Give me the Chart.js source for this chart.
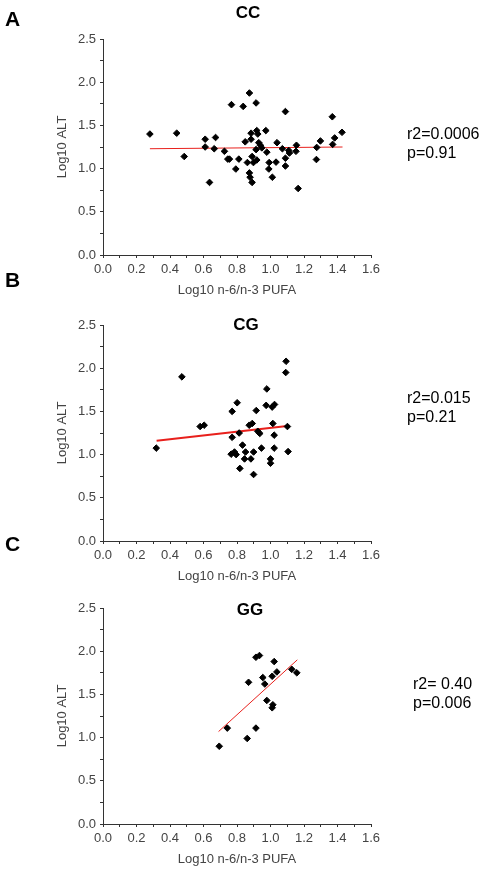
<!DOCTYPE html>
<html>
<head>
<meta charset="utf-8">
<script src="https://cdn.jsdelivr.net/npm/chart.js@4.4.1/dist/chart.umd.min.js"></script>
<style>
  body { margin: 0; background: #fff; }
  #page { position: relative; width: 489px; height: 872px; overflow: hidden; font-family: Arial, "Liberation Sans", sans-serif; color: #000; }
  canvas { position: absolute; left: 0; }
  .letter { position: absolute; left: 5px; font-weight: bold; font-size: 21px; line-height: 21px; }
  .title { position: absolute; width: 100px; text-align: center; font-weight: bold; font-size: 17px; line-height: 17px; }
  .stats { position: absolute; font-size: 16px; line-height: 19px; white-space: pre; }
</style>
</head>
<body>
<div id="page">
  <canvas id="ccChart" width="489" height="296" style="top:9px"></canvas>
  <canvas id="cgChart" width="489" height="296" style="top:295px"></canvas>
  <canvas id="ggChart" width="489" height="296" style="top:578px"></canvas>

  <div class="letter" style="top:8px">A</div>
  <div class="letter" style="top:269px">B</div>
  <div class="letter" style="top:533px">C</div>

  <div class="title" style="left:198px; top:4px">CC</div>
  <div class="title" style="left:196px; top:316px">CG</div>
  <div class="title" style="left:200px; top:601px">GG</div>

  <div class="stats" style="left:407px; top:124px">r2=0.0006<br>p=0.91</div>
  <div class="stats" style="left:407px; top:388px">r2=0.015<br>p=0.21</div>
  <div class="stats" style="left:413px; top:674px">r2= 0.40<br>p=0.006</div>
</div>

<script>
// Tick labels shown on the axes
const xTickLabels = ['0.0', '0.2', '0.4', '0.6', '0.8', '1.0', '1.2', '1.4', '1.6'];
const yTickLabels = ['0.0', '0.5', '1.0', '1.5', '2.0', '2.5'];

// CC genotype
const ccX = [0.28, 0.44, 0.485, 0.61, 0.61, 0.672, 0.664, 0.636, 0.725, 0.755, 0.745, 0.767, 0.793, 0.811, 0.837,
  0.849, 0.862, 0.874, 0.884, 0.884, 0.874, 0.878, 0.890, 0.890, 0.898, 0.914, 0.918, 0.924, 0.914, 0.918,
  0.93, 0.94, 0.948, 0.972, 0.978, 0.992, 0.99, 1.011, 1.039, 1.033, 1.089, 1.071, 1.089, 1.089, 1.109,
  1.113, 1.155, 1.152, 1.165, 1.276, 1.274, 1.298, 1.369, 1.371, 1.383, 1.427];
const ccY = [1.40, 1.41, 1.14, 1.34, 1.25, 1.36, 1.23, 0.84, 1.20, 1.11, 1.11, 1.74, 0.995, 1.11, 1.72,
  1.31, 1.07, 1.875, 1.41, 1.34, 0.95, 0.90, 0.84, 1.14, 1.07, 1.76, 1.44, 1.40, 1.22, 1.10,
  1.30, 1.27, 1.24, 1.44, 1.19, 1.07, 0.995, 0.90, 1.30, 1.075, 1.66, 1.23, 1.12, 1.03, 1.21,
  1.18, 1.27, 1.20, 0.77, 1.245, 1.105, 1.32, 1.60, 1.28, 1.355, 1.42];
const ccFitX = [0.28, 1.43];
const ccFitY = [1.23, 1.25];

// CG genotype
const cgX = [0.318, 0.471, 0.58, 0.604, 0.771, 0.801, 0.771, 0.813, 0.765, 0.785, 0.795, 0.833, 0.851,
  0.845, 0.817, 0.883, 0.899, 0.899, 0.873, 0.891, 0.915, 0.924, 0.936, 0.946, 0.974, 0.978, 1.0, 1.0,
  1.01, 1.024, 1.014, 1.022, 1.022, 1.093, 1.091, 1.101, 1.105];
const cgY = [1.075, 1.90, 1.325, 1.34, 1.50, 1.60, 1.20, 1.25, 1.005, 1.03, 1.00, 1.11, 1.03,
  0.95, 0.84, 0.95, 1.03, 0.77, 1.34, 1.36, 1.51, 1.27, 1.245, 1.075, 1.57, 1.76, 0.95, 0.90,
  1.55, 1.58, 1.36, 1.225, 1.075, 2.08, 1.95, 1.325, 1.035];
const cgFitX = [0.32, 1.10];
const cgFitY = [1.16, 1.33];

// GG genotype
const ggX = [0.694, 0.742, 0.861, 0.869, 0.913, 0.913, 0.934, 0.954, 0.966, 0.978, 1.01, 1.014, 1.01,
  1.022, 1.038, 1.127, 1.157];
const ggY = [0.90, 1.11, 0.99, 1.64, 1.11, 1.93, 1.95, 1.695, 1.62, 1.43, 1.71, 1.38, 1.345,
  1.88, 1.76, 1.79, 1.75];
const ggFitX = [0.69, 1.16];
const ggFitY = [1.07, 1.90];

const axisColor = '#333';
const textColor = '#444';
const tickFont = { family: 'Arial, "Liberation Sans", sans-serif', size: 13 };

function pairs(xs, ys) {
  return xs.map((x, i) => ({ x: x, y: ys[i] }));
}

function labelFor(list, value) {
  const hit = list.find(l => Math.abs(parseFloat(l) - value) < 1e-6);
  return hit === undefined ? '' : hit;
}

function createPanel(id, xs, ys, fitX, fitY, fitWidth) {
  const ctx = document.getElementById(id).getContext('2d');
  new Chart(ctx, {
    type: 'scatter',
    data: {
      datasets: [
        {
          data: pairs(xs, ys),
          pointStyle: 'rectRot',
          pointRadius: 3.3,
          pointBorderWidth: 1,
          backgroundColor: '#000',
          borderColor: '#000'
        },
        {
          type: 'line',
          data: pairs(fitX, fitY),
          borderColor: '#e8201c',
          borderWidth: fitWidth,
          pointRadius: 0,
          fill: false
        }
      ]
    },
    options: {
      responsive: false,
      animation: false,
      devicePixelRatio: 1,
      layout: { padding: { top: 30, right: 118, left: 0, bottom: 0 } },
      plugins: { legend: { display: false }, tooltip: { enabled: false }, title: { display: false } },
      scales: {
        x: {
          type: 'linear',
          min: 0,
          max: 1.6,
          afterFit: scale => { scale.height = 50; },
          border: { display: true, color: axisColor, width: 1 },
          grid: { display: true, drawOnChartArea: false, drawTicks: true, tickLength: 3, color: axisColor },
          ticks: {
            stepSize: 0.1,
            autoSkip: false,
            maxRotation: 0,
            padding: 4,
            color: textColor,
            font: tickFont,
            callback: v => labelFor(xTickLabels, v)
          },
          title: {
            display: true,
            text: 'Log10 n-6/n-3 PUFA',
            color: textColor,
            font: tickFont,
            padding: { top: 0, bottom: 6.5 }
          }
        },
        y: {
          type: 'linear',
          min: 0,
          max: 2.5,
          afterFit: scale => { scale.width = 103; },
          border: { display: true, color: axisColor, width: 1 },
          grid: { display: true, drawOnChartArea: false, drawTicks: true, tickLength: 3, color: axisColor },
          ticks: {
            stepSize: 0.25,
            autoSkip: false,
            padding: 4,
            color: textColor,
            font: tickFont,
            callback: v => labelFor(yTickLabels, v)
          },
          title: {
            display: true,
            text: 'Log10 ALT',
            color: textColor,
            font: tickFont,
            padding: { top: 55, bottom: 0 }
          }
        }
      }
    }
  });
}

createPanel('ccChart', ccX, ccY, ccFitX, ccFitY, 1);
createPanel('cgChart', cgX, cgY, cgFitX, cgFitY, 2);
createPanel('ggChart', ggX, ggY, ggFitX, ggFitY, 1);
</script>
</body>
</html>
